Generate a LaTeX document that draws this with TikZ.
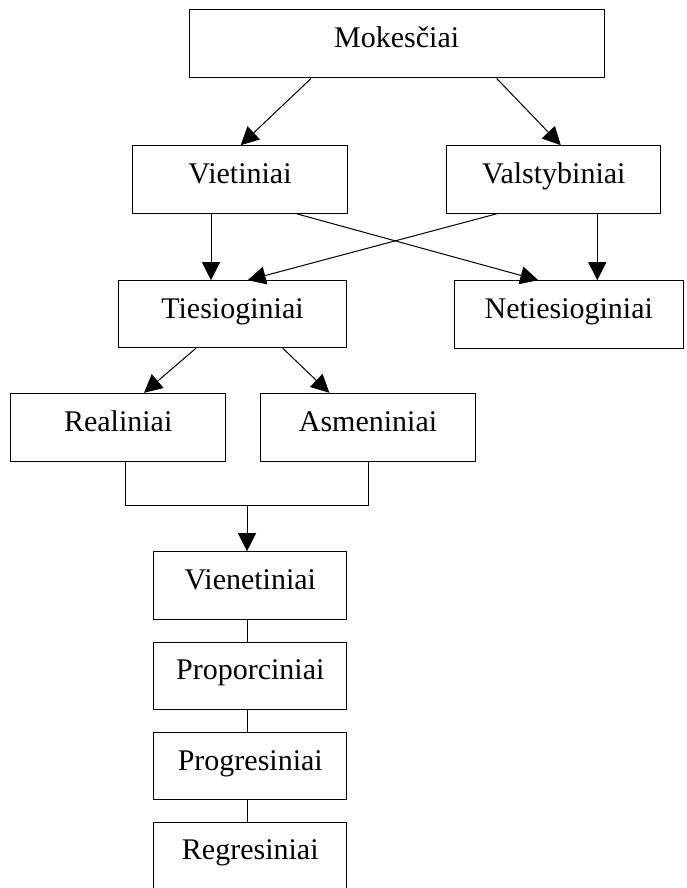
\documentclass[tikz,border=0pt]{standalone}
\usepackage{fontspec}
\setmainfont{Liberation Serif}
\usetikzlibrary{arrows.meta}
\tikzset{
  boxnode/.style={draw, line width=1pt, inner sep=0pt, align=center,
    font=\fontsize{30}{36}\selectfont, text height=20pt, text depth=12pt},
  arr/.style={line width=1pt, -{Triangle[length=18pt,width=18pt]}},
  plain/.style={line width=1pt}
}
\begin{document}
\begin{tikzpicture}[x=1pt,y=-1pt]
\path[use as bounding box] (0,0) rectangle (686,888);
\node[boxnode, minimum width=414.7pt, minimum height=68pt] (mok) at (396.7,44) {Mokesčiai};
\node[boxnode, minimum width=214.6pt, minimum height=67.6pt] (viet) at (240,179.5) {Vietiniai};
\node[boxnode, minimum width=214.3pt, minimum height=67.6pt] (vals) at (553.8,179.5) {Valstybiniai};
\node[boxnode, minimum width=228.4pt, minimum height=67pt] (ties) at (232.5,314.2) {Tiesioginiai};
\node[boxnode, minimum width=229pt, minimum height=67.6pt] (neti) at (568.8,314.5) {Netiesioginiai};
\node[boxnode, minimum width=215pt, minimum height=68.4pt] (real) at (118.2,427.5) {Realiniai};
\node[boxnode, minimum width=214.6pt, minimum height=68.4pt] (asm) at (368,427.5) {Asmeniniai};
\node[boxnode, minimum width=192.7pt, minimum height=67.6pt] (vien) at (250.3,585.5) {Vienetiniai};
\node[boxnode, minimum width=192.7pt, minimum height=66.7pt] (prop) at (250.3,675.7) {Proporciniai};
\node[boxnode, minimum width=192.7pt, minimum height=66.6pt] (prog) at (250.3,766) {Progresiniai};
\node[boxnode, minimum width=192.7pt, minimum height=66.7pt] (regr) at (250.3,855.7) {Regresiniai};
\coordinate (j) at (247,505.7);
% top level
\draw[arr] ([xshift=-85.7pt]mok.south) -- ([xshift=0.7pt]viet.north);
\draw[arr] ([xshift=100pt]mok.south) -- ([xshift=7pt]vals.north);
% second level
\draw[arr] ([xshift=-29pt]viet.south) -- ([xshift=-29pt]viet.south |- ties.north);
\draw[arr] ([xshift=56.7pt]viet.south) -- ([xshift=-30.5pt]neti.north);
\draw[arr] ([xshift=-57.1pt]vals.south) -- ([xshift=15.2pt]ties.north);
\draw[arr] ([xshift=43.5pt]vals.south) -- ([xshift=43.5pt]vals.south |- neti.north);
% third level
\draw[arr] ([xshift=-36.5pt]ties.south) -- ([xshift=25.8pt]real.north);
\draw[arr] ([xshift=50.2pt]ties.south) -- ([xshift=-38.7pt]asm.north);
% join
\draw[plain] ([xshift=7.1pt]real.south) |- (j) -| ([xshift=0.7pt]asm.south);
\draw[arr] (j) -- (j |- vien.north);
% chain
\draw[plain] (j |- vien.south) -- (j |- prop.north);
\draw[plain] (j |- prop.south) -- (j |- prog.north);
\draw[plain] (j |- prog.south) -- (j |- regr.north);
\end{tikzpicture}
\end{document}
